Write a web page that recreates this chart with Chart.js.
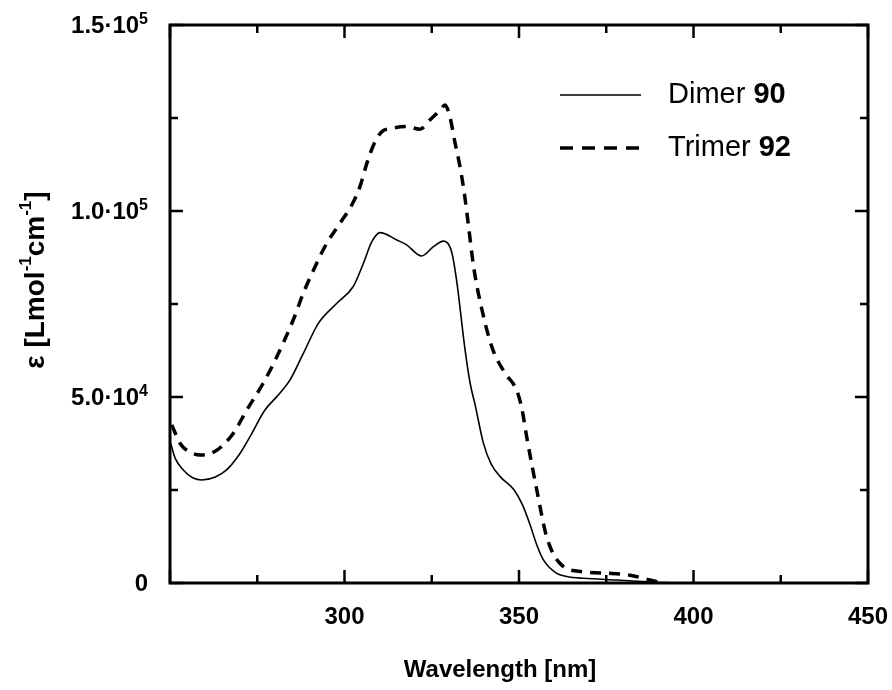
<!DOCTYPE html>
<html>
<head>
<meta charset="utf-8">
<title>Absorption spectra</title>
<script src="https://cdn.jsdelivr.net/npm/chart.js@4.4.0/dist/chart.umd.min.js"></script>
<style>
    body { margin: 0; background: #fff; }
    canvas { display: block; }
</style>
</head>
<body>
<canvas id="spectra" width="892" height="690"></canvas>
<script>
// wavelength [nm] and extinction coefficient [L mol-1 cm-1]
const dimerNm = [250.2, 251.5, 253.8, 256.5, 259.1, 263.0, 266.2, 270.1, 272.9, 277.2, 280.6, 284.4, 288.2, 292.5, 297.8,
    302.5, 305.4, 307.8, 310.2, 315.0, 317.8, 322.1, 325.5, 328.3, 330.7, 332.1, 334.5, 336.0, 337.4, 339.8,
    342.0, 344.6, 348.6, 351.0, 353.2, 355.0, 357.0, 360.8, 364.0, 368.4, 378.0, 389.5, 395.0];
const dimerEps = [37500, 33500, 30400, 28300, 27700, 28500, 30400, 34900, 39300, 46500, 50100, 54600, 61700, 69800, 75200,
    79700, 85900, 91700, 94200, 92200, 90900, 87900, 90400, 91900, 89000, 81500, 63000, 53700, 48000, 37600,
    32000, 28600, 25000, 21000, 15600, 10500, 6200, 2600, 1700, 1260, 800, 200, 0];

const trimerNm = [250.5, 252.9, 255.5, 258.6, 263.4, 268.1, 272.0, 276.7, 280.6, 285.3, 288.2, 292.0, 294.9, 298.7,
    302.3, 304.4, 306.4, 308.3, 310.7, 313.5, 317.8, 321.6, 324.5, 327.4, 328.8, 330.2, 331.7, 333.1, 334.3,
    335.4, 337.0, 339.5, 342.4, 346.0, 349.3, 350.8, 352.2, 355.1, 357.9, 361.7, 368.4, 376.1, 381.8, 387.5, 391.0];
const trimerEps = [42500, 37500, 35300, 34400, 35700, 40200, 46500, 53700, 60800, 70700, 77900, 85900, 91300, 96700,
    102000, 106500, 112800, 117700, 121300, 122200, 122700, 122000, 124500, 127100, 128500, 125300, 118200, 111900, 105000,
    97000, 85000, 73000, 63000, 56400, 51900, 47000, 39300, 25000, 12500, 5300, 3000, 2600, 2100, 800, 0];

const seriesLabels = ['Dimer 90', 'Trimer 92'];
const xTickLabels = { 300: '300', 350: '350', 400: '400', 450: '450' };
// y labels as [mantissa, power of ten]
const yTickLabels = { 0: ['0', ''], 50000: ['5.0\u00b710', '4'], 100000: ['1.0\u00b710', '5'], 150000: ['1.5\u00b710', '5'] };

const toPoints = (xs, ys) => xs.map((x, i) => ({ x: x, y: ys[i] }));

const FONT = "'Liberation Sans', Arial, Helvetica, sans-serif";

// closed frame with inward tick marks on all four sides, plus y labels with exponents
const frameTicks = {
    id: 'frameTicks',
    afterDatasetsDraw(chart) {
        const { ctx, chartArea: a, scales } = chart;
        ctx.save();
        ctx.strokeStyle = '#000';
        ctx.lineWidth = 3;
        ctx.strokeRect(a.left, a.top, a.right - a.left, a.bottom - a.top);
        ctx.lineWidth = 2.5;
        ctx.beginPath();
        scales.x.ticks.forEach(t => {
            const px = scales.x.getPixelForValue(t.value);
            const len = t.value % 50 === 0 ? 13 : 8;
            ctx.moveTo(px, a.bottom); ctx.lineTo(px, a.bottom - len);
            ctx.moveTo(px, a.top); ctx.lineTo(px, a.top + len);
        });
        scales.y.ticks.forEach(t => {
            const py = scales.y.getPixelForValue(t.value);
            const len = t.value % 50000 === 0 ? 13 : 8;
            ctx.moveTo(a.left, py); ctx.lineTo(a.left + len, py);
            ctx.moveTo(a.right, py); ctx.lineTo(a.right - len, py);
        });
        ctx.stroke();

        ctx.fillStyle = '#000';
        ctx.textBaseline = 'alphabetic';
        ctx.textAlign = 'left';
        scales.y.ticks.forEach(t => {
            const lab = yTickLabels[t.value];
            if (!lab) return;
            const py = scales.y.getPixelForValue(t.value);
            ctx.font = 'bold 16px ' + FONT;
            const ew = lab[1] ? ctx.measureText(lab[1]).width : 0;
            ctx.font = 'bold 24px ' + FONT;
            const mw = ctx.measureText(lab[0]).width;
            const right = a.left - 22;
            ctx.fillText(lab[0], right - ew - mw, py + 8);
            if (lab[1]) {
                ctx.font = 'bold 16px ' + FONT;
                ctx.fillText(lab[1], right - ew, py - 1);
            }
        });
        ctx.restore();
    }
};

// axis titles and the line legend
const annotations = {
    id: 'annotations',
    afterDraw(chart) {
        const ctx = chart.ctx;
        ctx.save();
        ctx.fillStyle = '#000';

        ctx.font = 'bold 24px ' + FONT;
        ctx.textAlign = 'center';
        ctx.textBaseline = 'middle';
        ctx.fillText('Wavelength [nm]', 500, 670);

        // rotated y title with superscripts
        const parts = [
            ['\u03b5 [Lmol', false], ['-1', true], ['cm', false], ['-1', true], [']', false]
        ];
        const big = 'bold 28px ' + FONT, small = 'bold 17px ' + FONT;
        let total = 0;
        parts.forEach(p => { ctx.font = p[1] ? small : big; total += ctx.measureText(p[0]).width; });
        ctx.translate(34, 280);
        ctx.rotate(-Math.PI / 2);
        ctx.textAlign = 'left';
        ctx.textBaseline = 'alphabetic';
        let x = -total / 2;
        parts.forEach(p => {
            ctx.font = p[1] ? small : big;
            ctx.fillText(p[0], x, p[1] ? -3 : 10);
            x += ctx.measureText(p[0]).width;
        });
        ctx.setTransform(1, 0, 0, 1, 0, 0);

        // legend
        const rows = [95, 148];
        chart.data.datasets.forEach((ds, i) => {
            const y = rows[i];
            ctx.strokeStyle = ds.borderColor;
            ctx.lineWidth = ds.borderWidth;
            ctx.setLineDash(ds.legendDash || []);
            ctx.beginPath();
            ctx.moveTo(560, y);
            ctx.lineTo(641, y);
            ctx.stroke();
            ctx.setLineDash([]);
            const cut = ds.label.lastIndexOf(' ');
            const name = ds.label.slice(0, cut + 1), num = ds.label.slice(cut + 1);
            ctx.textBaseline = 'middle';
            ctx.font = '29px ' + FONT;
            ctx.fillText(name, 668, y);
            const w = ctx.measureText(name).width;
            ctx.font = 'bold 29px ' + FONT;
            ctx.fillText(num, 668 + w, y);
        });
        ctx.restore();
    }
};

new Chart(document.getElementById('spectra'), {
    type: 'line',
    data: {
        datasets: [{
            label: seriesLabels[0],
            data: toPoints(dimerNm, dimerEps),
            borderColor: '#000',
            borderWidth: 1.6,
            pointRadius: 0,
            cubicInterpolationMode: 'monotone',
            legendDash: []
        }, {
            label: seriesLabels[1],
            data: toPoints(trimerNm, trimerEps),
            borderColor: '#000',
            borderWidth: 3.5,
            borderDash: [11, 8],
            pointRadius: 0,
            cubicInterpolationMode: 'monotone',
            legendDash: [13, 9]
        }]
    },
    options: {
        responsive: false,
        animation: false,
        devicePixelRatio: 1,
        layout: { padding: { top: 25, right: 24, left: 0, bottom: 0 } },
        plugins: { legend: { display: false }, tooltip: { enabled: false } },
        scales: {
            x: {
                type: 'linear',
                min: 250,
                max: 450,
                grid: { display: false, drawTicks: false },
                border: { display: false },
                ticks: {
                    stepSize: 25,
                    autoSkip: false,
                    maxRotation: 0,
                    padding: 20,
                    color: '#000',
                    font: { family: FONT, size: 24, weight: 'bold' },
                    callback: v => xTickLabels[v] || ''
                },
                afterFit: s => { s.height = 107; s.paddingLeft = 0; s.paddingRight = 0; }
            },
            y: {
                min: 0,
                max: 150000,
                grid: { display: false, drawTicks: false },
                border: { display: false },
                ticks: {
                    stepSize: 25000,
                    autoSkip: false,
                    display: false
                },
                afterFit: s => { s.width = 170; s.paddingTop = 0; s.paddingBottom = 0; }
            }
        }
    },
    plugins: [frameTicks, annotations]
});
</script>
</body>
</html>
